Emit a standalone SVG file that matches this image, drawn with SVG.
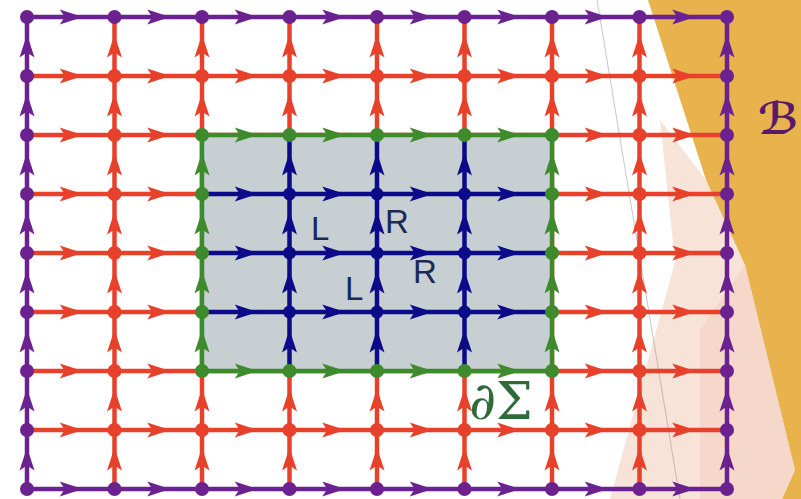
<svg xmlns="http://www.w3.org/2000/svg" xmlns:xlink="http://www.w3.org/1999/xlink" width="801" height="499" viewBox="0 0 801 499">
<style>
.pu{fill:#6b2290;stroke:#6b2290}
.rd{fill:#e8412b;stroke:#e8412b}
.gr{fill:#3d8b2c;stroke:#3d8b2c}
.bl{fill:#0b0b8a;stroke:#0b0b8a}
.ln{stroke-width:4.5;fill:none}
.arr use{stroke:none}
.dots circle{stroke:none}
.lbl{font-family:"Liberation Sans",Arial,sans-serif;font-size:33px;fill:#1b2a55}
</style>
<defs>
<path id="ah" d="M-11,-7.5 L12,0 L-11,7.5 L-6,0 Z"/>
<path id="av" d="M-7.5,11 L0,-12 L7.5,11 L0,6 Z"/>
</defs>
<g id="background">
<rect x="0" y="0" width="801" height="499" fill="#ffffff"/>
<polygon points="630,0 801,0 801,499 630,499" fill="#e8b24c"/>
<polygon points="0,0 648,0 706,180 745,265 795,470 782,499 0,499" fill="#ffffff"/>
<polygon points="660,120 706,180 745,265 795,470 782,499 610,499 675,262" fill="#f2c7b3" opacity="0.5"/>
<polygon points="700,330 745,265 795,470 782,499 700,499" fill="#eeb8a0" opacity="0.25"/>
<line x1="597" y1="0" x2="680" y2="499" stroke="#8a8a8a" stroke-width="0.8" opacity="0.6"/>
</g>
<g id="connectors">
<g class="rd ln">
<path d="M27,76H727M27,135H727M27,194H727M27,253H727M27,312H727M27,371H727M27,430H727"/>
<path d="M114.5,17V489M202,17V489M289.5,17V489M377,17V489M464.5,17V489M552,17V489M639.5,17V489"/>
</g>
<rect id="region" x="202" y="135" width="350" height="236" fill="#c7cfd3"/>
<g class="bl ln">
<path d="M202,194H552M202,253H552M202,312H552M289.5,135V371M377,135V371M464.5,135V371"/>
</g>
<rect class="gr ln" x="202" y="135" width="350" height="236"/>
<rect class="pu ln" x="27" y="17" width="700" height="472"/>
</g>
<g id="nodes" class="dots">
<g class="pu">
<circle cx="27" cy="17" r="7"/><circle cx="114.5" cy="17" r="7"/><circle cx="202" cy="17" r="7"/><circle cx="289.5" cy="17" r="7"/><circle cx="377" cy="17" r="7"/><circle cx="464.5" cy="17" r="7"/><circle cx="552" cy="17" r="7"/><circle cx="639.5" cy="17" r="7"/><circle cx="727" cy="17" r="7"/>
<circle cx="27" cy="489" r="7"/><circle cx="114.5" cy="489" r="7"/><circle cx="202" cy="489" r="7"/><circle cx="289.5" cy="489" r="7"/><circle cx="377" cy="489" r="7"/><circle cx="464.5" cy="489" r="7"/><circle cx="552" cy="489" r="7"/><circle cx="639.5" cy="489" r="7"/><circle cx="727" cy="489" r="7"/>
<circle cx="27" cy="76" r="7"/><circle cx="27" cy="135" r="7"/><circle cx="27" cy="194" r="7"/><circle cx="27" cy="253" r="7"/><circle cx="27" cy="312" r="7"/><circle cx="27" cy="371" r="7"/><circle cx="27" cy="430" r="7"/>
<circle cx="727" cy="76" r="7"/><circle cx="727" cy="135" r="7"/><circle cx="727" cy="194" r="7"/><circle cx="727" cy="253" r="7"/><circle cx="727" cy="312" r="7"/><circle cx="727" cy="371" r="7"/><circle cx="727" cy="430" r="7"/>
</g>
<g class="rd">
<circle cx="114.5" cy="76" r="7"/><circle cx="202" cy="76" r="7"/><circle cx="289.5" cy="76" r="7"/><circle cx="377" cy="76" r="7"/><circle cx="464.5" cy="76" r="7"/><circle cx="552" cy="76" r="7"/><circle cx="639.5" cy="76" r="7"/>
<circle cx="114.5" cy="430" r="7"/><circle cx="202" cy="430" r="7"/><circle cx="289.5" cy="430" r="7"/><circle cx="377" cy="430" r="7"/><circle cx="464.5" cy="430" r="7"/><circle cx="552" cy="430" r="7"/><circle cx="639.5" cy="430" r="7"/>
<circle cx="114.5" cy="135" r="7"/><circle cx="114.5" cy="194" r="7"/><circle cx="114.5" cy="253" r="7"/><circle cx="114.5" cy="312" r="7"/><circle cx="114.5" cy="371" r="7"/>
<circle cx="639.5" cy="135" r="7"/><circle cx="639.5" cy="194" r="7"/><circle cx="639.5" cy="253" r="7"/><circle cx="639.5" cy="312" r="7"/><circle cx="639.5" cy="371" r="7"/>
</g>
<g class="gr">
<circle cx="202" cy="135" r="7"/><circle cx="289.5" cy="135" r="7"/><circle cx="377" cy="135" r="7"/><circle cx="464.5" cy="135" r="7"/><circle cx="552" cy="135" r="7"/>
<circle cx="202" cy="371" r="7"/><circle cx="289.5" cy="371" r="7"/><circle cx="377" cy="371" r="7"/><circle cx="464.5" cy="371" r="7"/><circle cx="552" cy="371" r="7"/>
<circle cx="202" cy="194" r="7"/><circle cx="202" cy="253" r="7"/><circle cx="202" cy="312" r="7"/>
<circle cx="552" cy="194" r="7"/><circle cx="552" cy="253" r="7"/><circle cx="552" cy="312" r="7"/>
</g>
<g class="bl">
<circle cx="289.5" cy="194" r="6.5"/><circle cx="377" cy="194" r="6.5"/><circle cx="464.5" cy="194" r="6.5"/>
<circle cx="289.5" cy="253" r="6.5"/><circle cx="377" cy="253" r="6.5"/><circle cx="464.5" cy="253" r="6.5"/>
<circle cx="289.5" cy="312" r="6.5"/><circle cx="377" cy="312" r="6.5"/><circle cx="464.5" cy="312" r="6.5"/>
</g>
</g>
<g id="arrows" class="arr">
<g class="pu">
<use href="#ah" x="70.75" y="17"/><use href="#ah" x="158.25" y="17"/><use href="#ah" x="245.75" y="17"/><use href="#ah" x="333.25" y="17"/><use href="#ah" x="420.75" y="17"/><use href="#ah" x="508.25" y="17"/><use href="#ah" x="595.75" y="17"/><use href="#ah" x="683.25" y="17"/>
<use href="#ah" x="70.75" y="489"/><use href="#ah" x="158.25" y="489"/><use href="#ah" x="245.75" y="489"/><use href="#ah" x="333.25" y="489"/><use href="#ah" x="420.75" y="489"/><use href="#ah" x="508.25" y="489"/><use href="#ah" x="595.75" y="489"/><use href="#ah" x="683.25" y="489"/>
<use href="#av" x="27" y="46.5"/><use href="#av" x="27" y="105.5"/><use href="#av" x="27" y="164.5"/><use href="#av" x="27" y="223.5"/><use href="#av" x="27" y="282.5"/><use href="#av" x="27" y="341.5"/><use href="#av" x="27" y="400.5"/><use href="#av" x="27" y="459.5"/>
<use href="#av" x="727" y="46.5"/><use href="#av" x="727" y="105.5"/><use href="#av" x="727" y="164.5"/><use href="#av" x="727" y="223.5"/><use href="#av" x="727" y="282.5"/><use href="#av" x="727" y="341.5"/><use href="#av" x="727" y="400.5"/><use href="#av" x="727" y="459.5"/>
</g>
<g class="rd">
<use href="#ah" x="70.75" y="76"/><use href="#ah" x="158.25" y="76"/><use href="#ah" x="245.75" y="76"/><use href="#ah" x="333.25" y="76"/><use href="#ah" x="420.75" y="76"/><use href="#ah" x="508.25" y="76"/><use href="#ah" x="595.75" y="76"/><use href="#ah" x="683.25" y="76"/>
<use href="#ah" x="70.75" y="430"/><use href="#ah" x="158.25" y="430"/><use href="#ah" x="245.75" y="430"/><use href="#ah" x="333.25" y="430"/><use href="#ah" x="420.75" y="430"/><use href="#ah" x="508.25" y="430"/><use href="#ah" x="595.75" y="430"/><use href="#ah" x="683.25" y="430"/>
<use href="#ah" x="70.75" y="135"/><use href="#ah" x="158.25" y="135"/><use href="#ah" x="595.75" y="135"/><use href="#ah" x="683.25" y="135"/>
<use href="#ah" x="70.75" y="194"/><use href="#ah" x="158.25" y="194"/><use href="#ah" x="595.75" y="194"/><use href="#ah" x="683.25" y="194"/>
<use href="#ah" x="70.75" y="253"/><use href="#ah" x="158.25" y="253"/><use href="#ah" x="595.75" y="253"/><use href="#ah" x="683.25" y="253"/>
<use href="#ah" x="70.75" y="312"/><use href="#ah" x="158.25" y="312"/><use href="#ah" x="595.75" y="312"/><use href="#ah" x="683.25" y="312"/>
<use href="#ah" x="70.75" y="371"/><use href="#ah" x="158.25" y="371"/><use href="#ah" x="595.75" y="371"/><use href="#ah" x="683.25" y="371"/>
<use href="#av" x="114.5" y="46.5"/><use href="#av" x="114.5" y="105.5"/><use href="#av" x="114.5" y="164.5"/><use href="#av" x="114.5" y="223.5"/><use href="#av" x="114.5" y="282.5"/><use href="#av" x="114.5" y="341.5"/><use href="#av" x="114.5" y="400.5"/><use href="#av" x="114.5" y="459.5"/>
<use href="#av" x="639.5" y="46.5"/><use href="#av" x="639.5" y="105.5"/><use href="#av" x="639.5" y="164.5"/><use href="#av" x="639.5" y="223.5"/><use href="#av" x="639.5" y="282.5"/><use href="#av" x="639.5" y="341.5"/><use href="#av" x="639.5" y="400.5"/><use href="#av" x="639.5" y="459.5"/>
<use href="#av" x="202" y="46.5"/><use href="#av" x="202" y="105.5"/><use href="#av" x="202" y="400.5"/><use href="#av" x="202" y="459.5"/>
<use href="#av" x="289.5" y="46.5"/><use href="#av" x="289.5" y="105.5"/><use href="#av" x="289.5" y="400.5"/><use href="#av" x="289.5" y="459.5"/>
<use href="#av" x="377" y="46.5"/><use href="#av" x="377" y="105.5"/><use href="#av" x="377" y="400.5"/><use href="#av" x="377" y="459.5"/>
<use href="#av" x="464.5" y="46.5"/><use href="#av" x="464.5" y="105.5"/><use href="#av" x="464.5" y="400.5"/><use href="#av" x="464.5" y="459.5"/>
<use href="#av" x="552" y="46.5"/><use href="#av" x="552" y="105.5"/><use href="#av" x="552" y="400.5"/><use href="#av" x="552" y="459.5"/>
</g>
<g class="gr">
<use href="#ah" x="245.75" y="135"/><use href="#ah" x="333.25" y="135"/><use href="#ah" x="420.75" y="135"/><use href="#ah" x="508.25" y="135"/>
<use href="#ah" x="245.75" y="371"/><use href="#ah" x="333.25" y="371"/><use href="#ah" x="420.75" y="371"/><use href="#ah" x="508.25" y="371"/>
<use href="#av" x="202" y="164.5"/><use href="#av" x="202" y="223.5"/><use href="#av" x="202" y="282.5"/><use href="#av" x="202" y="341.5"/>
<use href="#av" x="552" y="164.5"/><use href="#av" x="552" y="223.5"/><use href="#av" x="552" y="282.5"/><use href="#av" x="552" y="341.5"/>
</g>
<g class="bl">
<use href="#ah" x="245.75" y="194"/><use href="#ah" x="333.25" y="194"/><use href="#ah" x="420.75" y="194"/><use href="#ah" x="508.25" y="194"/>
<use href="#ah" x="245.75" y="253"/><use href="#ah" x="333.25" y="253"/><use href="#ah" x="420.75" y="253"/><use href="#ah" x="508.25" y="253"/>
<use href="#ah" x="245.75" y="312"/><use href="#ah" x="333.25" y="312"/><use href="#ah" x="420.75" y="312"/><use href="#ah" x="508.25" y="312"/>
<use href="#av" x="289.5" y="164.5"/><use href="#av" x="289.5" y="223.5"/><use href="#av" x="289.5" y="282.5"/><use href="#av" x="289.5" y="341.5"/>
<use href="#av" x="377" y="164.5"/><use href="#av" x="377" y="223.5"/><use href="#av" x="377" y="282.5"/><use href="#av" x="377" y="341.5"/>
<use href="#av" x="464.5" y="164.5"/><use href="#av" x="464.5" y="223.5"/><use href="#av" x="464.5" y="282.5"/><use href="#av" x="464.5" y="341.5"/>
</g>
</g>
<g id="labels">
<text class="lbl" x="311" y="240">L</text>
<text class="lbl" x="385" y="233">R</text>
<text class="lbl" x="413" y="283">R</text>
<text class="lbl" x="345" y="300">L</text>
<text x="469" y="419" font-family="DejaVu Serif, serif" font-size="52" fill="#2e6b38">∂Σ</text>
<text x="758" y="134" font-family="DejaVu Sans, serif" font-weight="bold" font-size="44" fill="#5a1a6c">ℬ</text>
</g>
</svg>
